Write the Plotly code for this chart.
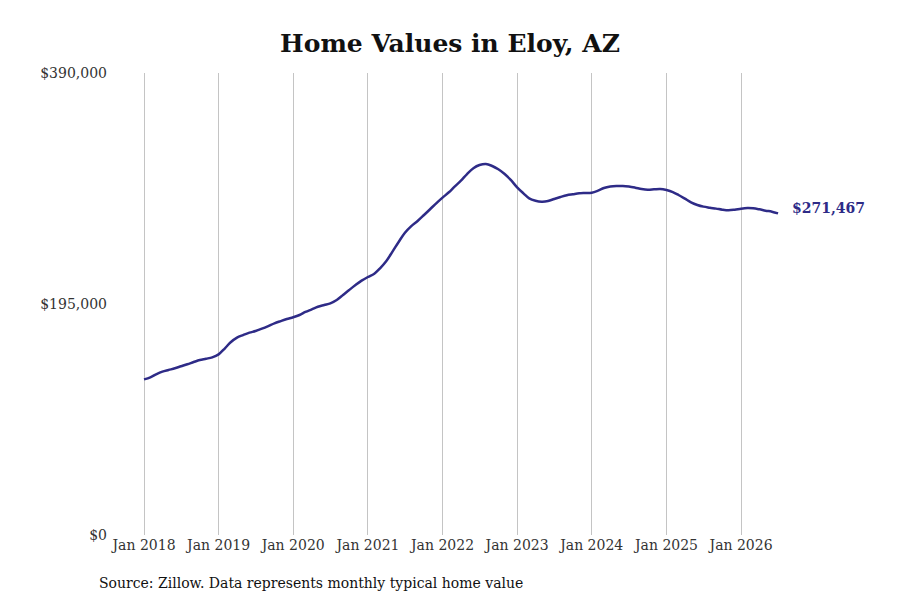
import pandas as pd
import plotly.graph_objects as go

# monthly typical home value, Jan 2018 .. Jul 2026
months = pd.date_range("2018-01-01", "2026-07-01", freq="MS")
values = [
    131400, 133100, 135600, 137900, 139300, 140700, 142400, 144100, 146000, 147700, 148800, 150000,
    152500, 157600, 162700, 166600, 168800, 170800, 172200, 174200, 176400, 178700, 180600, 182300,
    183800, 185700, 188300, 190500, 192700, 194200, 195600, 198400, 202600, 206800, 211000, 214700,
    217800, 220600, 225100, 231300, 239200, 247600, 255200, 260800, 265100, 269900, 275000, 280000,
    284800, 289300, 294100, 299100, 304700, 309600, 312300, 313200, 311500, 308700, 304700, 299700,
    293500, 288400, 284200, 282200, 281400, 281900, 283600, 285300, 286800, 287600, 288400, 288700,
    289000, 290700, 292900, 294100, 294600, 294600, 294100, 293200, 292100, 291500, 291800, 292100,
    291200, 289500, 287000, 283900, 280800, 278600, 277200, 276300, 275500, 274600, 274100, 274600,
    275500, 276000, 275800, 274900, 273800, 272900, 271467,
]
tick_dates = pd.date_range("2018-01-01", "2026-01-01", freq="YS")
tick_text = [f"Jan {d.year}" for d in tick_dates]
y_ticks = [0, 195000, 390000]
y_text = ["$0", "$195,000", "$390,000"]

line_color = "#2e2b87"
font = "DejaVu Serif"

fig = go.Figure(
    go.Scatter(
        x=months,
        y=values,
        mode="lines",
        line=dict(color=line_color, width=2.5, shape="spline"),
        hoverinfo="skip",
    )
)

fig.add_annotation(
    x=months[-1], y=values[-1], text=f"<b>${values[-1]:,}</b>",
    xanchor="left", yanchor="middle", xshift=12, yshift=5, showarrow=False,
    font=dict(family=font, size=14, color=line_color),
)
fig.add_annotation(
    x=0, y=0, xref="paper", yref="paper", yshift=-38, xshift=-18,
    text="Source: Zillow. Data represents monthly typical home value",
    xanchor="left", yanchor="top", showarrow=False,
    font=dict(family=font, size=14, color="#111111"),
)

fig.update_layout(
    width=900, height=600,
    paper_bgcolor="white", plot_bgcolor="white",
    margin=dict(l=115, r=30, t=73, b=65, autoexpand=False),
    showlegend=False,
    title=dict(
        text="<b>Home Values in Eloy, AZ</b>", x=0.5, xanchor="center",
        y=0.928, yanchor="middle",
        font=dict(family=font, size=25, color="#111111"),
    ),
    font=dict(family=font, size=14, color="#333333"),
)
fig.update_xaxes(
    range=["2017-08-12", "2027-09-24"],
    tickvals=tick_dates, ticktext=tick_text,
    showgrid=True, gridcolor="#c4c4c4", gridwidth=1,
    zeroline=False, showline=False, ticks="",
)
fig.update_yaxes(
    range=[0, 390000],
    tickvals=y_ticks, ticktext=y_text, ticklabelstandoff=7,
    showgrid=False, zeroline=False, showline=False, ticks="",
)

fig.write_html(
    "out.html",
    config={"displayModeBar": False},
    post_script="document.body.style.margin='0';",
)
